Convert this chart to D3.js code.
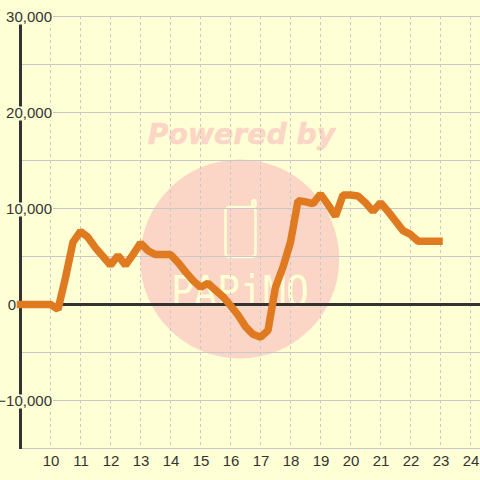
<!DOCTYPE html>
<html><head><meta charset="utf-8">
<style>html,body{margin:0;padding:0;background:#ffffd5}svg{display:block}</style>
<script src="https://cdn.jsdelivr.net/npm/d3@7"></script></head>
<body><svg id="c" width="480" height="480"></svg>
<script>
const hours = [9,9.25,9.5,9.75,10,10.25,10.5,10.75,11,11.25,11.5,11.75,12,12.25,12.5,12.75,13,13.25,13.5,13.75,14,14.25,14.5,14.75,15,15.25,15.5,15.75,16,16.25,16.5,16.75,17,17.25,17.5,17.75,18,18.25,18.5,18.75,19,19.25,19.5,19.75,20,20.25,20.5,20.75,21,21.25,21.5,21.75,22,22.25,22.5,22.75,22.95];
const values = [0,0,0,0,0,-500,2800,6500,7600,7000,5900,5000,4100,5100,4100,5200,6400,5600,5200,5200,5200,4400,3400,2500,1800,2200,1500,800,-100,-1100,-2300,-3100,-3400,-2700,1800,3900,6500,10800,10700,10500,11500,10400,9200,11400,11400,11300,10600,9700,10600,9700,8700,7700,7300,6600,6600,6600,6600];
const xTicks = [10,11,12,13,14,15,16,17,18,19,20,21,22,23,24];
const yLabelled = [30000,20000,10000,0,-10000];
const yMinor = [25000,15000,5000,-5000,-15000];

const svg = d3.select('#c');
const x = d3.scaleLinear().domain([9,24.3]).range([20.5,479.5]);
const y = d3.scaleLinear().domain([30000,-15000]).range([16.5,448.5]);
const bg = '#ffffd5', ink = '#333333', grid = '#c8c8c8';

// watermark
const wm = svg.append('g');
wm.append('circle').attr('cx',239.7).attr('cy',259).attr('r',99.5).attr('fill','#fbd5c5');
wm.append('rect').attr('x',225.5).attr('y',207).attr('width',30).attr('height',50).attr('rx',4)
  .attr('fill','none').attr('stroke','#ffffd5').attr('stroke-width',2.5);
wm.append('path').attr('d','M252.5 207V201.5a1.5 1.5 0 0 1 3 0V207').attr('fill','none').attr('stroke','#ffffd5').attr('stroke-width',2.5);
wm.append('text').text('PAPiMO').attr('x',171).attr('y',306).attr('textLength',138).attr('lengthAdjust','spacingAndGlyphs')
  .attr('font-family','DejaVu Sans Mono').attr('font-size',43).attr('fill','#ffffd5');
wm.append('text').text('Powered by').attr('x',241.5).attr('y',144).attr('text-anchor','middle')
  .attr('font-family','DejaVu Sans').attr('font-weight','bold').attr('font-style','oblique').attr('font-size',28.3)
  .attr('fill','#fbd5c5').attr('stroke','#fbd5c5').attr('stroke-width',0.5);

// grid
svg.append('g').selectAll('line').data(yLabelled.concat(yMinor)).join('line')
  .attr('x1',20).attr('x2',480).attr('y1',d=>y(d)).attr('y2',d=>y(d))
  .attr('stroke',grid).attr('stroke-width',1);
svg.append('g').selectAll('line').data(xTicks).join('line')
  .attr('x1',d=>x(d)).attr('x2',d=>x(d)).attr('y1',16).attr('y2',448)
  .attr('stroke',grid).attr('stroke-width',1).attr('stroke-dasharray','3 3');

// axes
svg.append('line').attr('x1',x(9)).attr('x2',x(9)).attr('y1',24).attr('y2',449).attr('stroke',ink).attr('stroke-width',3);
svg.append('line').attr('x1',20).attr('x2',480).attr('y1',y(0)).attr('y2',y(0)).attr('stroke',ink).attr('stroke-width',3);

// y label backgrounds, then series, then label text
const labelled = yLabelled.filter(d=>d!==0);
svg.append('g').selectAll('rect').data(labelled).join('rect')
  .attr('x',2).attr('y',d=>y(d)-6).attr('width',51).attr('height',14).attr('fill',bg);

svg.append('path').datum(hours.map((h,i)=>[h,values[i]]))
  .attr('d',d3.line().x(d=>x(d[0])).y(d=>y(d[1])))
  .attr('fill','none').attr('stroke','#df7a20').attr('stroke-width',7.5).attr('stroke-linejoin','bevel').attr('stroke-linecap','square');

svg.append('g').selectAll('text').data(yLabelled).join('text').text(d=>d3.format(',')(d))
  .attr('x',d=>d===0?16:52).attr('y',d=>y(d)+5.5).attr('text-anchor','end')
  .attr('font-family','Liberation Sans').attr('font-size',15).attr('fill',ink);

// x labels
svg.append('g').selectAll('text').data(xTicks).join('text').text(d=>d)
  .attr('x',d=>x(d)+0.5).attr('y',466).attr('text-anchor','middle')
  .attr('font-family','Liberation Sans').attr('font-size',15).attr('fill',ink);
</script></body></html>
